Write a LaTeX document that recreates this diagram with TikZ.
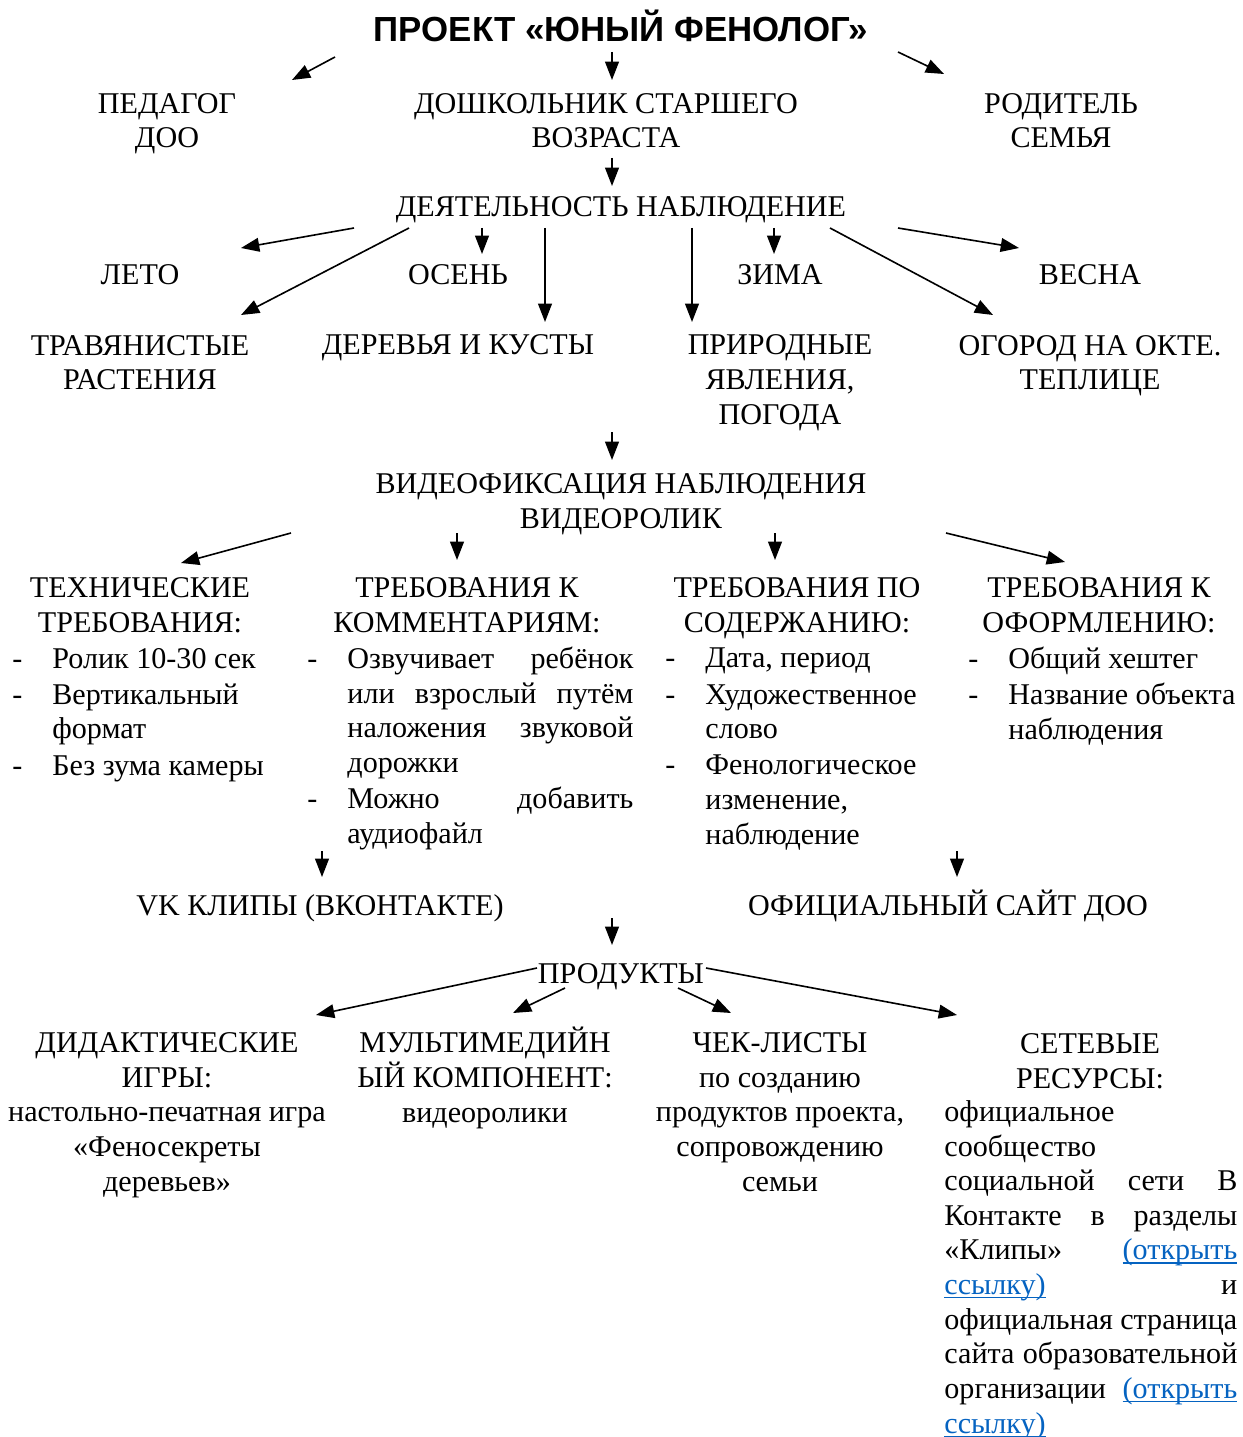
\documentclass[tikz,border=0pt]{standalone}
\usepackage{fontspec}
\setmainfont{Liberation Serif}
\newfontfamily\headfont{Liberation Sans}
\usetikzlibrary{arrows.meta,calc}
\definecolor{linkblue}{RGB}{5,99,193}
\newlength{\dashw}
\setlength{\dashw}{18.6pt}
\newsavebox{\lnkbox}
\newcommand{\itm}{\makebox[\dashw][l]{-}}
\newcommand{\cnt}{\hspace*{\dashw}}
\newcommand{\jst}[2]{\makebox[#1][s]{#2}}
\newcommand{\lnk}[1]{\textcolor{linkblue}{\sbox{\lnkbox}{#1}\rlap{\rule[-1.8pt]{\wd\lnkbox}{0.6pt}}\usebox{\lnkbox}}}

\begin{document}
\begin{tikzpicture}[x=0.465pt,y=-0.465pt,
  lbl/.style={font=\fontsize{14}{16.1}\selectfont,align=center,inner sep=0pt,anchor=base},
  lst/.style={font=\fontsize{14}{16.1}\selectfont,align=left,inner sep=0pt,anchor=base west},
  ttl/.style={font=\headfont\bfseries\fontsize{16.2}{19}\selectfont,inner sep=0pt,anchor=base},
  arr/.style={-{Triangle[length=8.5pt,width=6.4pt]},line width=0.75pt}]
\useasboundingbox (0,0) rectangle (1242,1437);
\node[ttl] (title) at (621,42) {ПРОЕКТ «ЮНЫЙ ФЕНОЛОГ»};
\node[lbl] (ped) at (167,148) {ПЕДАГОГ\\ДОО};
\node[lbl] (dosh) at (606,148) {ДОШКОЛЬНИК СТАРШЕГО\\ВОЗРАСТА};
\node[lbl] (rod) at (1061,148) {РОДИТЕЛЬ\\СЕМЬЯ};
\node[lbl] (deyat) at (621,217) {ДЕЯТЕЛЬНОСТЬ НАБЛЮДЕНИЕ};
\node[lbl] (leto) at (140,285) {ЛЕТО};
\node[lbl] (osen) at (458,285) {ОСЕНЬ};
\node[lbl] (zima) at (780,285) {ЗИМА};
\node[lbl] (vesna) at (1090,285) {ВЕСНА};
\node[lbl] (trav) at (140,390) {ТРАВЯНИСТЫЕ\\РАСТЕНИЯ};
\node[lbl] (derev) at (458,355) {ДЕРЕВЬЯ И КУСТЫ};
\node[lbl] (prir) at (780,424) {ПРИРОДНЫЕ\\ЯВЛЕНИЯ,\\ПОГОДА};
\node[lbl] (ogor) at (1090,390) {ОГОРОД НА ОКТЕ.\\ТЕПЛИЦЕ};
\coordinate (seasons) at (612,432);
\node[lbl] (video) at (621,528) {ВИДЕОФИКСАЦИЯ НАБЛЮДЕНИЯ\\ВИДЕОРОЛИК};
\node[lbl] (tech) at (140,632) {ТЕХНИЧЕСКИЕ\\ТРЕБОВАНИЯ:};
\node[lbl] (comm) at (467,632) {ТРЕБОВАНИЯ К\\КОММЕНТАРИЯМ:};
\node[lbl] (sod) at (797,632) {ТРЕБОВАНИЯ ПО\\СОДЕРЖАНИЮ:};
\node[lbl] (oform) at (1099,632) {ТРЕБОВАНИЯ К\\ОФОРМЛЕНИЮ:};
\node[lst] (techlist) at (12,775) {\itm Ролик 10-30 сек\\[0.7pt]
  \itm Вертикальный\\ \cnt формат\\[0.7pt]
  \itm Без зума камеры};
\node[lst] (commlist) at (307,843) {\itm\jst{133pt}{Озвучивает ребёнок}\\
  \cnt\jst{133pt}{или взрослый путём}\\ \cnt\jst{133pt}{наложения звуковой}\\
  \cnt дорожки\\[0.7pt]
  \itm\jst{133pt}{Можно добавить}\\ \cnt аудиофайл};
\node[lst] (sodlist) at (665,844) {\itm Дата, период\\[0.7pt]
  \itm Художественное\\ \cnt слово\\[0.7pt]
  \itm Фенологическое\\ \cnt изменение,\\ \cnt наблюдение};
\node[lst] (oformlist) at (968,739) {\itm Общий хештег\\[0.7pt]
  \itm Название объекта\\ \cnt наблюдения};
\node[lbl] (vk) at (320,915) {VK КЛИПЫ (ВКОНТАКТЕ)};
\node[lbl] (site) at (948,915) {ОФИЦИАЛЬНЫЙ САЙТ ДОО};
\coordinate (channels) at (612,918);
\node[lbl] (prod) at (621,983) {ПРОДУКТЫ};
\node[lbl] (did) at (167,1191) {ДИДАКТИЧЕСКИЕ\\ИГРЫ:\\настольно-печатная игра\\«Феносекреты\\деревьев»};
\node[lbl] (mult) at (485,1122) {МУЛЬТИМЕДИЙН\\ЫЙ КОМПОНЕНТ:\\видеоролики};
\node[lbl] (chek) at (780,1191) {ЧЕК-ЛИСТЫ\\по созданию\\продуктов проекта,\\сопровождению\\семьи};
\node[lbl] (set) at (1090,1088) {СЕТЕВЫЕ\\РЕСУРСЫ:};
\node[lst] (setlist) at (944,1433) {официальное\\сообщество\\
  \jst{136.2pt}{социальной сети В}\\ \jst{136.2pt}{Контакте в разделы}\\
  \jst{136.2pt}{«Клипы» \lnk{(открыть}}\\ \jst{136.2pt}{\lnk{ссылку)} и}\\
  \jst{136.2pt}{официальная страница}\\ \jst{136.2pt}{сайта образовательной}\\
  \jst{136.2pt}{организации \lnk{(открыть}}\\ \lnk{ссылку)}};
\draw[arr] ($(title.base)+(-286,15)$) -- ($(ped.base)+(125,-68)$);
\draw[arr] ($(title.base)+(-9,10)$) -- ($(dosh.base)+(6,-68)$);
\draw[arr] ($(title.base)+(277,10)$) -- ($(rod.base)+(-117,-74)$);
\draw[arr] ($(dosh.base)+(6,10)$) -- ($(deyat.base)+(-9,-31)$);
\draw[arr] ($(deyat.base)+(-267,11)$) -- ($(leto.base)+(101,-37)$);
\draw[arr] ($(deyat.base)+(-212,11)$) -- ($(trav.base)+(101,-75)$);
\draw[arr] ($(deyat.base)+(-139,11)$) -- ($(osen.base)+(24,-31)$);
\draw[arr] ($(deyat.base)+(-76,11)$) -- ($(derev.base)+(87,-33)$);
\draw[arr] ($(deyat.base)+(71,11)$) -- ($(prir.base)+(-88,-102)$);
\draw[arr] ($(deyat.base)+(153,11)$) -- ($(zima.base)+(-6,-31)$);
\draw[arr] ($(deyat.base)+(209,11)$) -- ($(ogor.base)+(-97,-75)$);
\draw[arr] ($(deyat.base)+(277,11)$) -- ($(vesna.base)+(-71,-37)$);
\draw[arr] (seasons) -- ($(video.base)+(-9,-68)$);
\draw[arr] ($(video.base)+(-330,5)$) -- ($(tech.base)+(41,-69)$);
\draw[arr] ($(video.base)+(-164,5)$) -- ($(comm.base)+(-10,-72)$);
\draw[arr] ($(video.base)+(154,5)$) -- ($(sod.base)+(-22,-72)$);
\draw[arr] ($(video.base)+(325,5)$) -- ($(oform.base)+(-34,-70)$);
\draw[arr] ($(commlist.base west)+(15,8)$) -- ($(vk.base)+(2,-38)$);
\draw[arr] ($(sodlist.base west)+(292,7)$) -- ($(site.base)+(9,-38)$);
\draw[arr] (channels) -- ($(prod.base)+(-9,-38)$);
\draw[arr] ($(prod.base)+(-84,-15)$) -- ($(did.base)+(149,-176)$);
\draw[arr] ($(prod.base)+(-56,5)$) -- ($(mult.base)+(28,-109)$);
\draw[arr] ($(prod.base)+(57,5)$) -- ($(chek.base)+(-49,-178)$);
\draw[arr] ($(prod.base)+(85,-15)$) -- ($(set.base)+(-133,-73)$);
\end{tikzpicture}
\end{document}
